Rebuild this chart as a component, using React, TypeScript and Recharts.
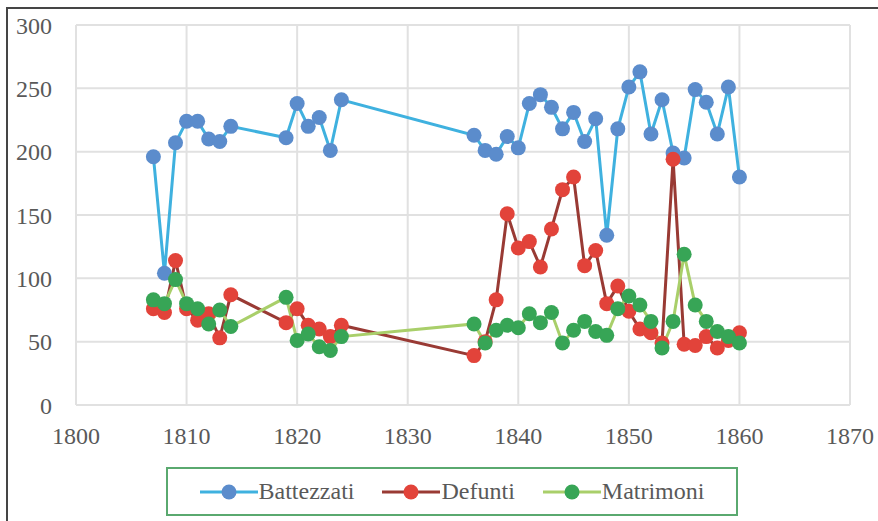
import { LineChart, Line, XAxis, YAxis, CartesianGrid, Legend } from 'recharts';

const years = [
  1807, 1808, 1809, 1810, 1811, 1812, 1813, 1814,
  1819, 1820, 1821, 1822, 1823, 1824,
  1836, 1837, 1838, 1839, 1840, 1841, 1842, 1843, 1844, 1845, 1846, 1847, 1848,
  1849, 1850, 1851, 1852, 1853, 1854, 1855, 1856, 1857, 1858, 1859, 1860,
];

const battezzati = [
  196, 104, 207, 224, 224, 210, 208, 220,
  211, 238, 220, 227, 201, 241,
  213, 201, 198, 212, 203, 238, 245, 235, 218, 231, 208, 226, 134,
  218, 251, 263, 214, 241, 199, 195, 249, 239, 214, 251, 180,
];

const defunti = [
  76, 73, 114, 76, 67, 72, 53, 87,
  65, 76, 63, 60, 54, 63,
  39, 50, 83, 151, 124, 129, 109, 139, 170, 180, 110, 122, 80,
  94, 74, 60, 57, 49, 194, 48, 47, 54, 45, 51, 57,
];

const matrimoni = [
  83, 80, 99, 80, 76, 64, 75, 62,
  85, 51, 56, 46, 43, 54,
  64, 49, 59, 63, 61, 72, 65, 73, 49, 59, 66, 58, 55,
  76, 86, 79, 66, 45, 66, 119, 79, 66, 58, 54, 49,
];

const xTicks = [1800, 1810, 1820, 1830, 1840, 1850, 1860, 1870];
const yTicks = [0, 50, 100, 150, 200, 250, 300];

const series = [
  { key: 'Battezzati', line: '#3fb1df', dot: '#5b8ccc' },
  { key: 'Defunti', line: '#993a34', dot: '#e2433a' },
  { key: 'Matrimoni', line: '#a9cf6a', dot: '#37a556' },
];

const data = years.map((year, i) => ({
  year,
  Battezzati: battezzati[i],
  Defunti: defunti[i],
  Matrimoni: matrimoni[i],
}));

const FONT = '"Liberation Serif", "Times New Roman", serif';
const TEXT = '#595959';

function LegendBox() {
  return (
    <div
      style={{
        boxSizing: 'border-box',
        width: 572,
        height: 49,
        border: '2px solid #5aa96f',
        display: 'flex',
        alignItems: 'center',
        justifyContent: 'center',
        gap: 28,
        fontFamily: FONT,
        fontSize: 24,
        color: TEXT,
      }}
    >
      {series.map((s) => (
        <div key={s.key} style={{ display: 'flex', alignItems: 'center' }}>
          <svg width={58} height={18} style={{ display: 'block' }}>
            <line x1={0} y1={9} x2={58} y2={9} stroke={s.line} strokeWidth={3} />
            <circle cx={29} cy={9} r={7.5} fill={s.dot} />
          </svg>
          <span style={{ marginLeft: 1 }}>{s.key}</span>
        </div>
      ))}
    </div>
  );
}

export default function App() {
  return (
    <div style={{ position: 'absolute', left: 0, top: 0, width: 878, height: 521, background: '#fff' }}>
      <div
        style={{
          position: 'absolute',
          left: 6,
          top: 7,
          width: 872,
          height: 514,
          borderTop: '2px solid #454545',
          borderLeft: '2px solid #454545',
          boxSizing: 'border-box',
        }}
      />
      <div style={{ position: 'absolute', left: 0, top: 0 }}>
        <LineChart width={878} height={521} data={data} margin={{ top: 25, right: 28, bottom: 86, left: 20 }}>
          <CartesianGrid stroke="#e1e1e1" strokeWidth={2} />
          <XAxis
            dataKey="year"
            type="number"
            domain={[1800, 1870]}
            ticks={xTicks}
            interval={0}
            height={30}
            axisLine={false}
            tickLine={false}
            tickSize={0}
            tickMargin={22}
            tick={{ fill: TEXT, fontSize: 24, fontFamily: FONT }}
          />
          <YAxis
            type="number"
            domain={[0, 300]}
            ticks={yTicks}
            interval={0}
            width={56}
            axisLine={false}
            tickLine={false}
            tickSize={0}
            tickMargin={24}
            tick={{ fill: TEXT, fontSize: 24, fontFamily: FONT }}
          />
          {series.map((s) => (
            <Line
              key={s.key}
              dataKey={s.key}
              type="linear"
              stroke={s.line}
              strokeWidth={3}
              dot={{ r: 7.5, fill: s.dot, stroke: s.dot, strokeWidth: 0 }}
              activeDot={false}
              isAnimationActive={false}
            />
          ))}
          <Legend
            layout="horizontal"
            verticalAlign="middle"
            align="center"
            content={() => <LegendBox />}
            wrapperStyle={{ position: 'absolute', left: 166, top: 467, width: 572, height: 49 }}
          />
        </LineChart>
      </div>
    </div>
  );
}
